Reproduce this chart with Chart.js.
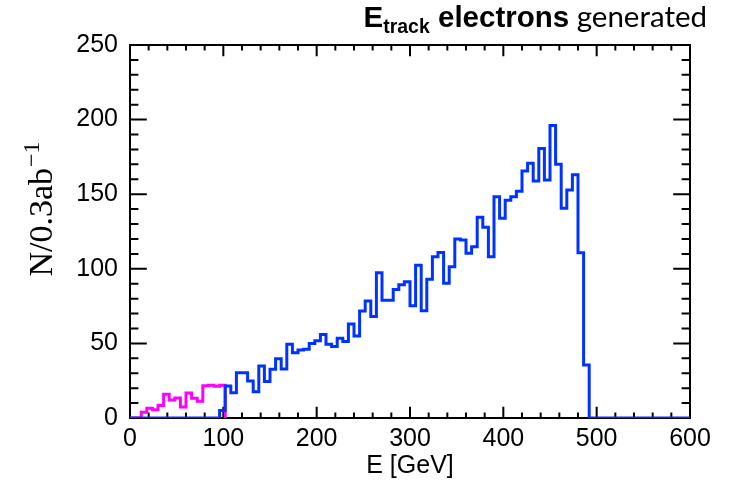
<!DOCTYPE html>
<html>
<head>
<meta charset="utf-8">
<script src="https://cdn.jsdelivr.net/npm/chart.js@4/dist/chart.umd.min.js"></script>
<style>
  html, body { margin: 0; padding: 0; background: #fff; }
  canvas { display: block; }
</style>
</head>
<body>
<canvas id="hist" width="730" height="485"></canvas>
<script>
// Histogram binning: 100 bins of 6 GeV from 0 to 600
const xMin = 0;
const xMax = 600;
const binWidth = 6;

// Counts per bin (N / 0.3 ab^-1), all electrons
const electronCounts = [
  0, 0, 0, 0, 0, 0, 0, 0, 0, 0,
  0, 0, 0, 0, 0, 0, 5, 21.4, 17, 30.4,
  30.4, 24.8, 17.6, 34.9, 24.5, 32.6, 39.7, 32.8, 49.4, 43.8,
  45.6, 46, 50, 51.8, 56, 49.4, 47.9, 53.5, 51.2, 63,
  55, 71.7, 78.5, 68, 97.4, 79, 79, 86.2, 89.3, 91.3,
  75.2, 102.3, 71.9, 93, 108.1, 111, 90.3, 101.4, 120, 119.3,
  110.4, 114.8, 134.5, 127.8, 108.1, 148.3, 133.8, 146, 148.3, 152,
  165.5, 170.7, 158.8, 180.7, 159.5, 196, 170, 140.5, 152.8, 163,
  110.8, 35.5, 0, 0, 0, 0, 0, 0, 0, 0,
  0, 0, 0, 0, 0, 0, 0, 0, 0, 0
];

// Low-energy component, first 17 bins only
const lowEnergyCounts = [
  0, 0, 3.8, 6.5, 5.5, 8.3, 16, 12, 13.4, 7.3,
  16.8, 13.2, 11.2, 21.6, 22, 21.2, 22
];

const yTicks = [0, 50, 100, 150, 200, 250];
const xTicks = [0, 100, 200, 300, 400, 500, 600];

const titleParts = { main: "E", sub: "track", bold: " electrons", plain: " generated" };
const yTitle = { base: "N/0.3ab", sup: "\u22121" };
const xTitle = "E [GeV]";

// step points at the left edge of each bin, closed at the last edge
function stepPoints(counts, closeTo) {
  const pts = counts.map((c, i) => ({ x: xMin + i * binWidth, y: c }));
  pts.push({ x: xMin + counts.length * binWidth, y: closeTo });
  return pts;
}

// frame with inward ticks on all four sides
const frameTicks = {
  id: "frameTicks",
  beforeDatasetsDraw(chart) {
    const { ctx, chartArea: a, scales: { x, y } } = chart;
    const h = a.bottom - a.top, w = a.right - a.left;
    const xMajor = 0.03 * h, yMajor = 0.03 * w;
    ctx.save();
    ctx.strokeStyle = "#000";
    ctx.lineWidth = 2;
    ctx.strokeRect(a.left, a.top, w, h);
    ctx.beginPath();
    for (let v = xMin; v <= xMax; v += 20) {
      const px = x.getPixelForValue(v);
      const len = v % 100 === 0 ? xMajor : xMajor / 2;
      ctx.moveTo(px, a.bottom); ctx.lineTo(px, a.bottom - len);
      ctx.moveTo(px, a.top); ctx.lineTo(px, a.top + len);
    }
    for (let v = 0; v <= 250; v += 10) {
      const py = y.getPixelForValue(v);
      const len = v % 50 === 0 ? yMajor : yMajor / 2;
      ctx.moveTo(a.left, py); ctx.lineTo(a.left + len, py);
      ctx.moveTo(a.right, py); ctx.lineTo(a.right - len, py);
    }
    ctx.stroke();
    ctx.restore();
  },
  afterDraw(chart) {
    const { ctx, chartArea: a } = chart;
    ctx.save();
    ctx.fillStyle = "#000";
    ctx.textBaseline = "alphabetic";

    // title: E_track electrons generated
    const big = "bold 29.5px 'Liberation Sans', Arial, sans-serif";
    const small = "bold 19.5px 'Liberation Sans', Arial, sans-serif";
    const plain = "29.5px Lato, 'Open Sans', sans-serif";
    ctx.font = big; const wE = ctx.measureText(titleParts.main).width;
    const wB = ctx.measureText(titleParts.bold).width;
    ctx.font = small; const wS = ctx.measureText(titleParts.sub).width;
    ctx.font = plain; const wP = ctx.measureText(titleParts.plain).width;
    let tx = 707 - (wE + wS + wB + wP);
    const ty = 27;
    ctx.font = big; ctx.fillText(titleParts.main, tx, ty); tx += wE;
    ctx.font = small; ctx.fillText(titleParts.sub, tx, ty + 6); tx += wS;
    ctx.font = big; ctx.fillText(titleParts.bold, tx, ty); tx += wB;
    ctx.font = plain; ctx.fillText(titleParts.plain, tx, ty);

    // rotated y title with superscript
    const serif = "34px 'Liberation Serif', 'Times New Roman', serif";
    const serifSup = "24px 'Liberation Serif', 'Times New Roman', serif";
    ctx.font = serif; const wBase = ctx.measureText(yTitle.base).width;
    ctx.font = serifSup; const wSup = ctx.measureText(yTitle.sup).width;
    ctx.translate(52, (a.top + a.bottom) / 2 - 22);
    ctx.rotate(-Math.PI / 2);
    const sx = -(wBase + wSup) / 2;
    ctx.font = serif; ctx.fillText(yTitle.base, sx, 0);
    ctx.font = serifSup; ctx.fillText(yTitle.sup, sx + wBase + 1, -13);
    ctx.restore();
  }
};

const tickFont = { family: "'Liberation Sans', Arial, sans-serif", size: 25 };

new Chart(document.getElementById("hist").getContext("2d"), {
  type: "line",
  data: {
    datasets: [
      {
        data: stepPoints(electronCounts, 0),
        borderColor: "#0033ff",
        borderWidth: 3,
        stepped: true,
        pointRadius: 0,
        fill: false
      },
      {
        data: stepPoints(lowEnergyCounts, 0),
        borderColor: "#ff00ff",
        borderWidth: 3,
        stepped: true,
        pointRadius: 0,
        fill: false
      }
    ]
  },
  options: {
    responsive: false,
    animation: false,
    layout: { padding: { top: 45, right: 40, left: 0, bottom: 0 } },
    plugins: { legend: { display: false }, tooltip: { enabled: false } },
    scales: {
      x: {
        type: "linear",
        min: xMin,
        max: xMax,
        afterBuildTicks: s => { s.ticks = xTicks.map(v => ({ value: v })); },
        afterFit: s => { s.height = 67; },
        grid: { display: false, drawTicks: false },
        border: { display: false },
        ticks: { color: "#000", font: tickFont, padding: 6, maxRotation: 0 },
        title: { display: true, text: xTitle, color: "#000", font: tickFont, padding: { top: 0, bottom: 4 } }
      },
      y: {
        type: "linear",
        min: 0,
        max: 250,
        afterBuildTicks: s => { s.ticks = yTicks.map(v => ({ value: v })); },
        afterFit: s => { s.width = 130; },
        grid: { display: false, drawTicks: false },
        border: { display: false },
        ticks: { color: "#000", font: tickFont, padding: 12 }
      }
    }
  },
  plugins: [frameTicks]
});
</script>
</body>
</html>
